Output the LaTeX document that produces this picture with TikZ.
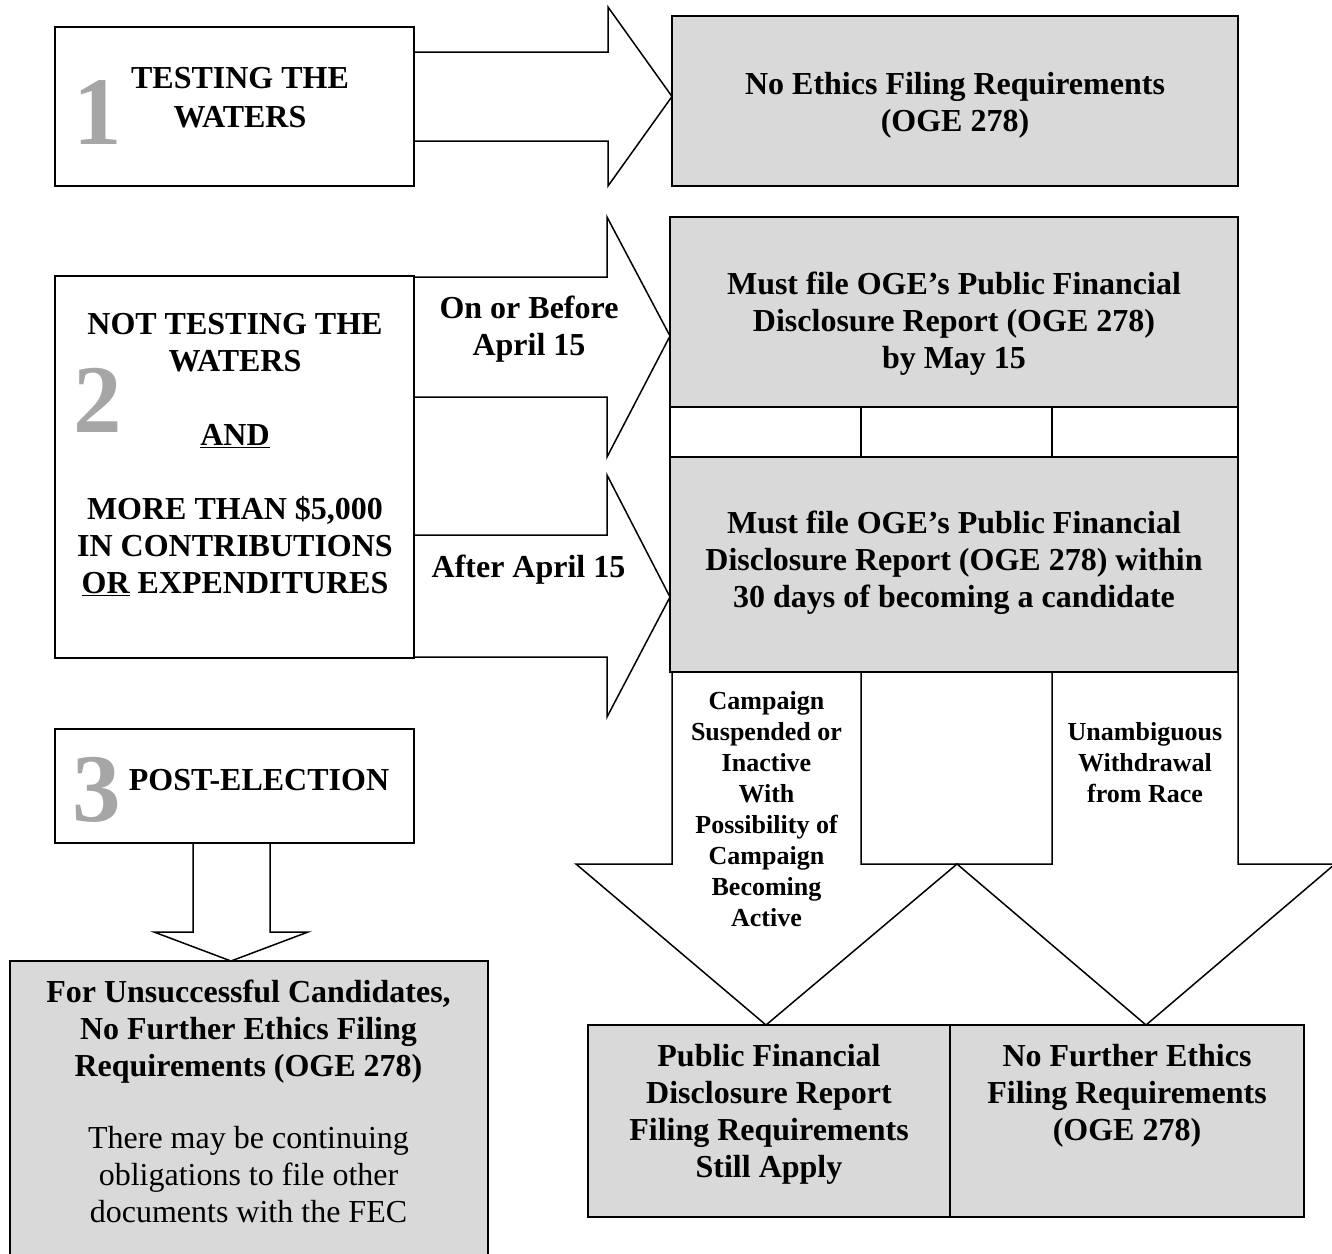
\documentclass[tikz,border=0pt]{standalone}
\usepackage{fontspec}
\setmainfont{Liberation Serif}
\usetikzlibrary{positioning,calc}
\definecolor{boxgray}{HTML}{D9D9D9}
\definecolor{numgray}{HTML}{A6A6A6}
\tikzset{
  box/.style={draw=black, line width=1.8pt, fill=white, anchor=north west, inner sep=0pt, outer sep=0pt},
  gbox/.style={box, fill=boxgray},
  barrow/.style={draw=black, line width=1.5pt, fill=white, line join=miter},
  lbl/.style={font=\fontsize{32}{37}\selectfont\bfseries, align=center, inner sep=0pt, anchor=north},
  slbl/.style={lbl, font=\fontsize{26}{30.9}\selectfont\bfseries},
  note/.style={lbl, font=\fontsize{32}{37}\selectfont},
  num/.style={font=\fontsize{97}{97}\selectfont\bfseries, text=numgray, inner sep=0pt, anchor=base},
}

\begin{document}
\begin{tikzpicture}[x=1pt, y=-1pt]
  \useasboundingbox (0,0) rectangle (1332,1253);
  % left column: the three stages
  \node[box, minimum width=359pt, minimum height=159pt] (b1) at (55,27) {};
  \node[box, minimum width=359pt, minimum height=382pt] (b2) at (55,276) {};
  \node[box, minimum width=359pt, minimum height=114pt] (b3) at (55,729) {};
  \node[gbox, minimum width=478pt, minimum height=320pt] (f0) at (10,961) {};
  % right column: filing requirements
  \node[gbox, minimum width=566pt, minimum height=170pt] (g1) at (672,16) {};
  \node[gbox, minimum width=568pt, minimum height=190pt] (g2) at (670,217) {};
  \node[gbox, minimum width=568pt, minimum height=215pt] (g3) at (670,457) {};
  \draw[box] (g2.south west) rectangle (g3.north east);
  \draw[line width=1.8pt] (861,407) -- (861,457) (1052,407) -- (1052,457);
  \node[gbox, minimum width=362pt, minimum height=192pt] (f1) at (588,1025) {};
  \node[gbox, minimum width=354pt, minimum height=192pt] (f2) at (950,1025) {};

  % block arrows
  \draw[barrow] (b1.east |- 0,52) -- (608,52) -- (608,7) -- (g1.west |- 0,96.5)
    -- (608,186) -- (608,141) -- (b1.east |- 0,141) -- cycle;
  \draw[barrow] (b2.east |- 0,277) -- (607,277) -- (607,217) -- (g2.west |- 0,336)
    -- (607,457) -- (607,397) -- (b2.east |- 0,397) -- cycle;
  \draw[barrow] (b2.east |- 0,535) -- (607,535) -- (607,475) -- (g3.west |- 0,597)
    -- (607,717) -- (607,657) -- (b2.east |- 0,657) -- cycle;
  \draw[barrow] (g3.south west -| 672,0) -- (672,864) -- (576,864) -- (f1.north -| 766,0)
    -- (957,864) -- (861,864) -- (861,672) -- cycle;
  \draw[barrow] (1052,672) -- (1052,864) -- (957,864) -- (f2.north -| 1146,0)
    -- (1335,864) -- (g3.south east |- 0,864) -- (g3.south east) -- cycle;
  \draw[barrow] (b3.south -| 193,0) -- (193,932) -- (154,932) -- (f0.north -| 231,0)
    -- (308,932) -- (270,932) -- (b3.south -| 270,0) -- cycle;

  % stage numbers
  \node[num] (n1) at (98,144) {1};
  \node[num] (n2) at (98,432) {2};
  \node[num] (n3) at (97,821) {3};

  % texts
  \node[lbl] (t1) at (240,67.5) {TESTING THE\\[1.5pt]WATERS};
  \node[lbl] (t2) at (235,313.3) {NOT TESTING THE\\WATERS\\[37pt]\underline{AND}\\[37pt]
    MORE THAN \$5,000\\IN CONTRIBUTIONS\\\underline{OR} EXPENDITURES};
  \node[lbl, anchor=base] (t3) at (259,790) {POST-ELECTION};
  \node[lbl] (t4) at (248.5,980) {For Unsuccessful Candidates,\\No Further Ethics Filing\\Requirements (OGE 278)};
  \node[note] (t5) at (248.5,1126.5) {There may be continuing\\obligations to file other\\documents with the FEC};
  \node[lbl] (t6) at (955,72.5) {No Ethics Filing Requirements\\(OGE 278)};
  \node[lbl] (t7) at (954,272) {Must file OGE’s Public Financial\\Disclosure Report (OGE 278)\\by May 15};
  \node[lbl] (t8) at (954,511) {Must file OGE’s Public Financial\\Disclosure Report (OGE 278) within\\30 days of becoming a candidate};
  \node[lbl] (t9) at (529,295.5) {On or Before\\April 15};
  \node[lbl, anchor=base] (t10) at (528.5,577) {After April 15};
  \node[slbl] (t11) at (766.5,691.5) {Campaign\\Suspended or\\Inactive\\With\\Possibility of\\Campaign\\Becoming\\Active};
  \node[slbl] (t12) at (1145,722.5) {Unambiguous\\Withdrawal\\from Race};
  \node[lbl] (t13) at (769,1044) {Public Financial\\Disclosure Report\\Filing Requirements\\Still Apply};
  \node[lbl] (t14) at (1127,1044) {No Further Ethics\\Filing Requirements\\(OGE 278)};
\end{tikzpicture}
\end{document}
